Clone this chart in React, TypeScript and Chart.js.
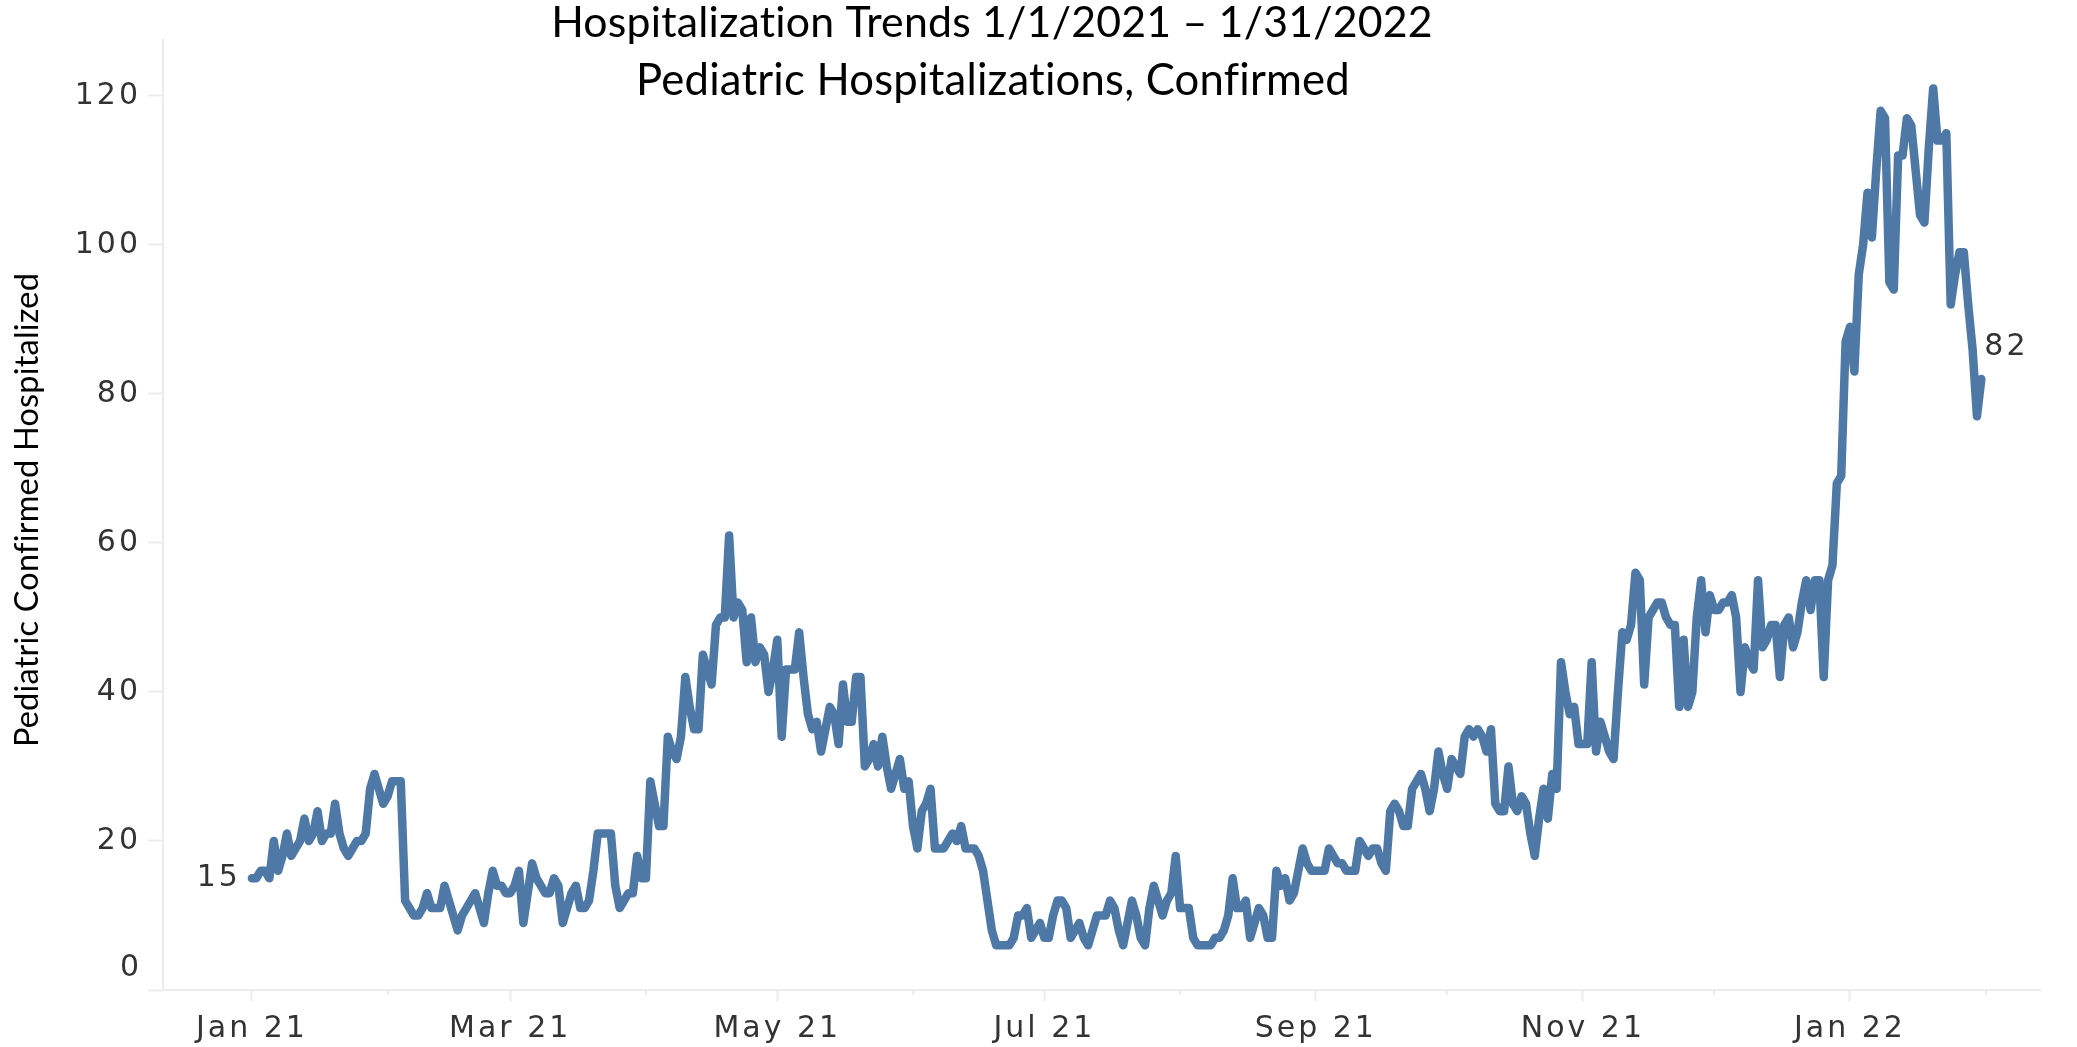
import React, { useEffect, useRef } from 'react';
import { Chart, registerables } from 'chart.js';

Chart.register(...registerables);

// ---------- text ----------
const TITLE_LINES = ['Hospitalization Trends 1/1/2021 – 1/31/2022', 'Pediatric Hospitalizations, Confirmed'];
const Y_TITLE = 'Pediatric Confirmed Hospitalized';

// ---------- data: daily pediatric confirmed hospitalized, one array per month ----------
const jan21 = [15, 15, 16, 16, 15, 20, 16, 18, 21, 18, 19, 20, 23, 20, 21, 24, 20, 21, 21, 25, 21, 19, 18, 19, 20, 20, 21, 27, 29, 27, 25];
const feb21 = [26, 28, 28, 28, 12, 11, 10, 10, 11, 13, 11, 11, 11, 14, 12, 10, 8, 10, 11, 12, 13, 11, 9, 13, 16, 14, 14, 13];
const mar21 = [13, 14, 16, 9, 13, 17, 15, 14, 13, 13, 15, 14, 9, 11, 13, 14, 11, 11, 12, 16, 21, 21, 21, 21, 14, 11, 12, 13, 13, 18, 15];
const apr21 = [15, 28, 25, 22, 22, 34, 32, 31, 34, 42, 38, 35, 35, 45, 43, 41, 49, 50, 50, 61, 50, 52, 51, 44, 50, 44, 46, 45, 40, 43];
const may21 = [47, 34, 43, 43, 43, 48, 42, 37, 35, 36, 32, 35, 38, 37, 33, 41, 36, 36, 42, 42, 30, 31, 33, 30, 34, 30, 27, 29, 31, 27, 28];
const jun21 = [22, 19, 24, 25, 27, 19, 19, 19, 20, 21, 20, 22, 19, 19, 19, 18, 16, 12, 8, 6, 6, 6, 6, 7, 10, 10, 11, 7, 8, 9];
const jul21 = [7, 7, 10, 12, 12, 11, 7, 8, 9, 7, 6, 8, 10, 10, 10, 12, 11, 8, 6, 9, 12, 10, 7, 6, 11, 14, 12, 10, 12, 13, 18];
const aug21 = [11, 11, 11, 7, 6, 6, 6, 6, 7, 7, 8, 10, 15, 11, 11, 12, 7, 9, 11, 10, 7, 7, 16, 14, 15, 12, 13, 16, 19, 17, 16];
const sep21 = [16, 16, 16, 19, 18, 17, 17, 16, 16, 16, 20, 19, 18, 19, 19, 17, 16, 24, 25, 24, 22, 22, 27, 28, 29, 27, 24, 27, 32, 29];
const oct21 = [27, 31, 30, 29, 34, 35, 34, 35, 34, 32, 35, 25, 24, 24, 30, 25, 24, 26, 25, 21, 18, 23, 27, 23, 29, 27, 44, 40, 37, 38, 33];
const nov21 = [33, 33, 44, 32, 36, 34, 32, 31, 40, 48, 47, 49, 56, 55, 41, 50, 51, 52, 52, 50, 49, 49, 38, 47, 38, 40, 50, 55, 48, 53];
const dec21 = [51, 51, 52, 52, 53, 50, 40, 46, 44, 43, 55, 46, 47, 49, 49, 42, 49, 50, 46, 48, 52, 55, 51, 55, 55, 42, 55, 57, 68, 69, 87];
const jan22 = [89, 83, 96, 100, 107, 101, 110, 118, 117, 95, 94, 112, 112, 117, 116, 110, 104, 103, 113, 121, 114, 114, 115, 92, 96, 99, 99, 92, 86, 77, 82];

const MONTH_SERIES = [jan21, feb21, mar21, apr21, may21, jun21, jul21, aug21, sep21, oct21, nov21, dec21, jan22];

// ---------- axis ----------
const MONTH_TICK_NAMES = ['Jan 21', 'Feb 21', 'Mar 21', 'Apr 21', 'May 21', 'Jun 21', 'Jul 21', 'Aug 21', 'Sep 21', 'Oct 21', 'Nov 21', 'Dec 21', 'Jan 22', 'Feb 22'];
const LABELED_MONTHS = ['Jan 21', 'Mar 21', 'May 21', 'Jul 21', 'Sep 21', 'Nov 21', 'Jan 22'];
const Y_TICKS = [0, 20, 40, 60, 80, 100, 120];
const X_MIN = -20.3;
const X_MAX = 408.4;
const Y_MAX = 127.5;

// ---------- style ----------
const LINE_COLOR = '#4e79a7';
const AXIS_COLOR = '#ececec';
const TICK_COLOR = '#333333';
const TICK_FAMILY = "'DejaVu Sans', Verdana, sans-serif";
const TICK_SIZE = 30;
const TITLE_FAMILY = "Lato, 'Open Sans', sans-serif";

const values: number[] = MONTH_SERIES.flat();
const monthStarts: number[] = [];
{
  let acc = 0;
  for (const m of MONTH_SERIES) {
    monthStarts.push(acc);
    acc += m.length;
  }
  monthStarts.push(acc);
}

function monthName(v: number): string | null {
  const i = monthStarts.indexOf(v);
  return i >= 0 ? MONTH_TICK_NAMES[i] : null;
}
function isMajor(v: number): boolean {
  const n = monthName(v);
  return n !== null && LABELED_MONTHS.includes(n);
}

function fitSize(ctx: CanvasRenderingContext2D, text: string, family: string, width: number): number {
  ctx.font = `100px ${family}`;
  const w = ctx.measureText(text).width;
  return (100 * width) / w;
}

const customText = {
  id: 'customText',
  beforeDraw(chart: any) {
    chart.ctx.letterSpacing = '3px';
  },
  afterDraw(chart: any) {
    const ctx: CanvasRenderingContext2D = chart.ctx;
    const xs = chart.scales.x;
    const ys = chart.scales.y;
    const area = chart.chartArea;
    ctx.save();

    // minor month ticks (short)
    ctx.strokeStyle = AXIS_COLOR;
    ctx.lineWidth = 2;
    for (const v of monthStarts) {
      if (isMajor(v)) continue;
      const px = Math.round(xs.getPixelForValue(v));
      ctx.beginPath();
      ctx.moveTo(px, area.bottom);
      ctx.lineTo(px, area.bottom + 5);
      ctx.stroke();
    }

    ctx.letterSpacing = '3px';
    ctx.font = `${TICK_SIZE}px ${TICK_FAMILY}`;
    ctx.fillStyle = TICK_COLOR;

    // zero label (drawn raised, as in the source)
    ctx.textAlign = 'right';
    ctx.textBaseline = 'middle';
    ctx.fillText('0', area.left - 21, ys.getPixelForValue(0) - 22);

    // start / end value labels
    const first = values[0];
    const lastIdx = values.length - 1;
    const last = values[lastIdx];
    ctx.fillText(String(first), xs.getPixelForValue(0) - 11, ys.getPixelForValue(first));
    ctx.textAlign = 'left';
    ctx.fillText(String(last), xs.getPixelForValue(lastIdx) + 3, ys.getPixelForValue(last) - 32);

    // titles (tiny letter spacing keeps ligatures off, like the source)
    ctx.letterSpacing = '0.2px';
    ctx.fillStyle = '#000000';
    ctx.textAlign = 'center';
    ctx.textBaseline = 'alphabetic';
    const s1 = fitSize(ctx, TITLE_LINES[0], TITLE_FAMILY, 877);
    ctx.font = `${s1}px ${TITLE_FAMILY}`;
    ctx.fillText(TITLE_LINES[0], 992, 37);
    const s2 = fitSize(ctx, TITLE_LINES[1], TITLE_FAMILY, 710);
    ctx.font = `${s2}px ${TITLE_FAMILY}`;
    ctx.fillText(TITLE_LINES[1], 993, 95);

    // y axis title
    const s3 = fitSize(ctx, Y_TITLE, TITLE_FAMILY, 470);
    ctx.font = `${s3}px ${TITLE_FAMILY}`;
    ctx.translate(38, 510);
    ctx.rotate(-Math.PI / 2);
    ctx.fillText(Y_TITLE, 0, 0);

    ctx.restore();
  },
};

export default function App() {
  const ref = useRef<HTMLCanvasElement | null>(null);

  useEffect(() => {
    document.body.style.margin = '0';
    const canvas = ref.current;
    if (!canvas) return;
    const chart = new Chart(canvas, {
      type: 'line',
      data: {
        datasets: [
          {
            data: values.map((v, i) => ({ x: i, y: v })),
            borderColor: LINE_COLOR,
            backgroundColor: LINE_COLOR,
            borderWidth: 8.5,
            pointRadius: 0,
            tension: 0,
            borderJoinStyle: 'round',
            borderCapStyle: 'round',
            fill: false,
          },
        ],
      },
      options: {
        responsive: false,
        animation: false,
        devicePixelRatio: 1,
        layout: { padding: { top: 40, right: 37, bottom: 0, left: 0 } },
        plugins: {
          legend: { display: false },
          tooltip: { enabled: false },
          title: { display: false },
        },
        scales: {
          x: {
            type: 'linear',
            min: X_MIN,
            max: X_MAX,
            afterBuildTicks: (s: any) => {
              s.ticks = monthStarts.map((v) => ({ value: v }));
            },
            afterFit: (s: any) => {
              s.height = 57;
            },
            ticks: {
              autoSkip: false,
              maxRotation: 0,
              minRotation: 0,
              padding: 10,
              color: TICK_COLOR,
              font: { family: TICK_FAMILY, size: TICK_SIZE },
              callback: (v: any) => (isMajor(Number(v)) ? monthName(Number(v)) : ''),
            },
            grid: {
              drawOnChartArea: false,
              drawTicks: true,
              tickLength: 11,
              tickWidth: 2,
              tickColor: (c: any) => (c.tick && isMajor(c.tick.value) ? AXIS_COLOR : 'rgba(0,0,0,0)'),
            },
            border: { color: AXIS_COLOR, width: 2 },
          },
          y: {
            type: 'linear',
            min: 0,
            max: Y_MAX,
            afterBuildTicks: (s: any) => {
              s.ticks = Y_TICKS.map((v) => ({ value: v }));
            },
            afterFit: (s: any) => {
              s.width = 163;
            },
            ticks: {
              padding: 7,
              color: TICK_COLOR,
              font: { family: TICK_FAMILY, size: TICK_SIZE },
              callback: (v: any) => (Number(v) === 0 ? '' : String(v)),
            },
            grid: {
              drawOnChartArea: false,
              drawTicks: true,
              tickLength: 15,
              tickWidth: 2,
              tickColor: AXIS_COLOR,
            },
            border: { color: AXIS_COLOR, width: 2 },
          },
        },
      },
      plugins: [customText],
    } as any);
    return () => chart.destroy();
  }, []);

  return <canvas ref={ref} width={2077} height={1047} style={{ display: 'block' }} />;
}
